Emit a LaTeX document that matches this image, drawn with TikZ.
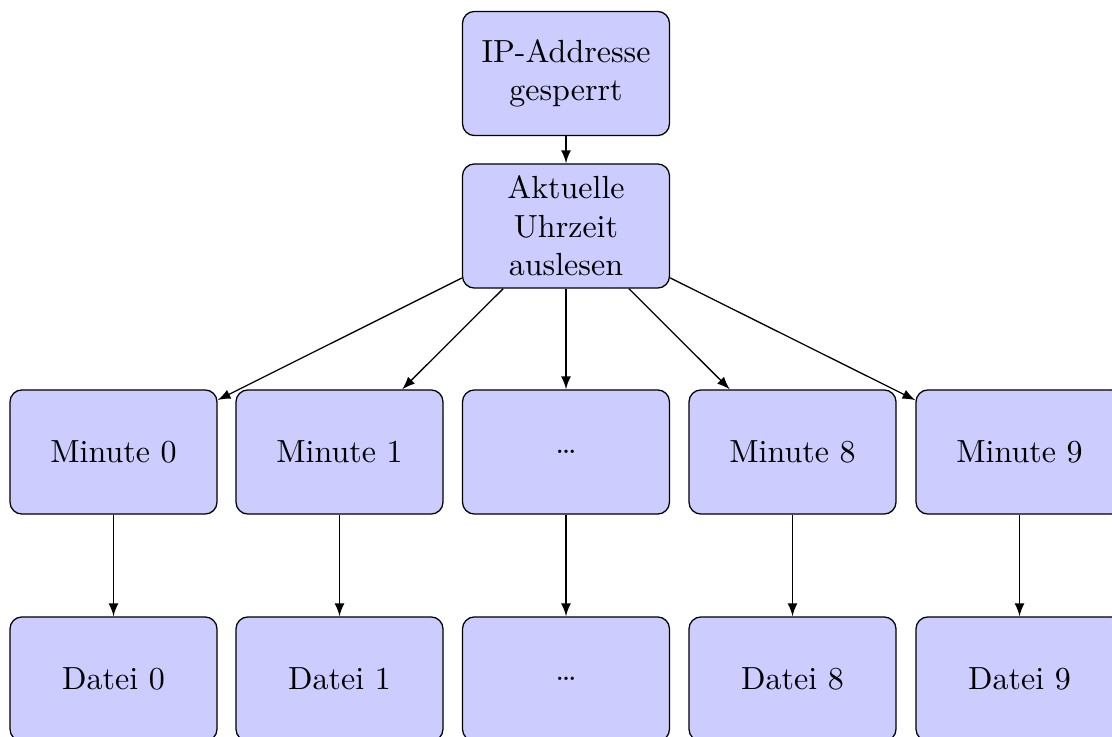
\documentclass[tikz,border=0pt]{standalone}
\begin{document}
\begin{tikzpicture}[x=0.3125pt,y=-0.3125pt,
  box/.style={draw, rounded corners=3.75pt, fill=blue!20, align=center,
    minimum width=64.7pt, minimum height=38.8pt, inner sep=0pt},
  link/.style={-latex}]
  \clip (0,0) rectangle (1112,736);
  \node[box] (ip) at (566,73.5) {IP-Addresse\\gesperrt};
  \node[box] (akt) at (566,226) {Aktuelle\\Uhrzeit\\auslesen};
  \node[box] (m0) at (113.5,452) {Minute 0};
  \node[box] (m1) at (339.5,452) {Minute 1};
  \node[box] (m2) at (566,452) {\dots};
  \node[box] (m8) at (792.5,452) {Minute 8};
  \node[box] (m9) at (1019.5,452) {Minute 9};
  \node[box] (d0) at (113.5,679) {Datei 0};
  \node[box] (d1) at (339.5,679) {Datei 1};
  \node[box] (d2) at (566,679) {\dots};
  \node[box] (d8) at (792.5,679) {Datei 8};
  \node[box] (d9) at (1019.5,679) {Datei 9};
  \draw[link] (ip) -- (akt);
  \foreach \n in {m0,m1,m2,m8,m9} \draw[link] (akt) -- (\n);
  \draw[link] (m0) -- (d0);
  \draw[link] (m1) -- (d1);
  \draw[link] (m2) -- (d2);
  \draw[link] (m8) -- (d8);
  \draw[link] (m9) -- (d9);
\end{tikzpicture}
\end{document}
